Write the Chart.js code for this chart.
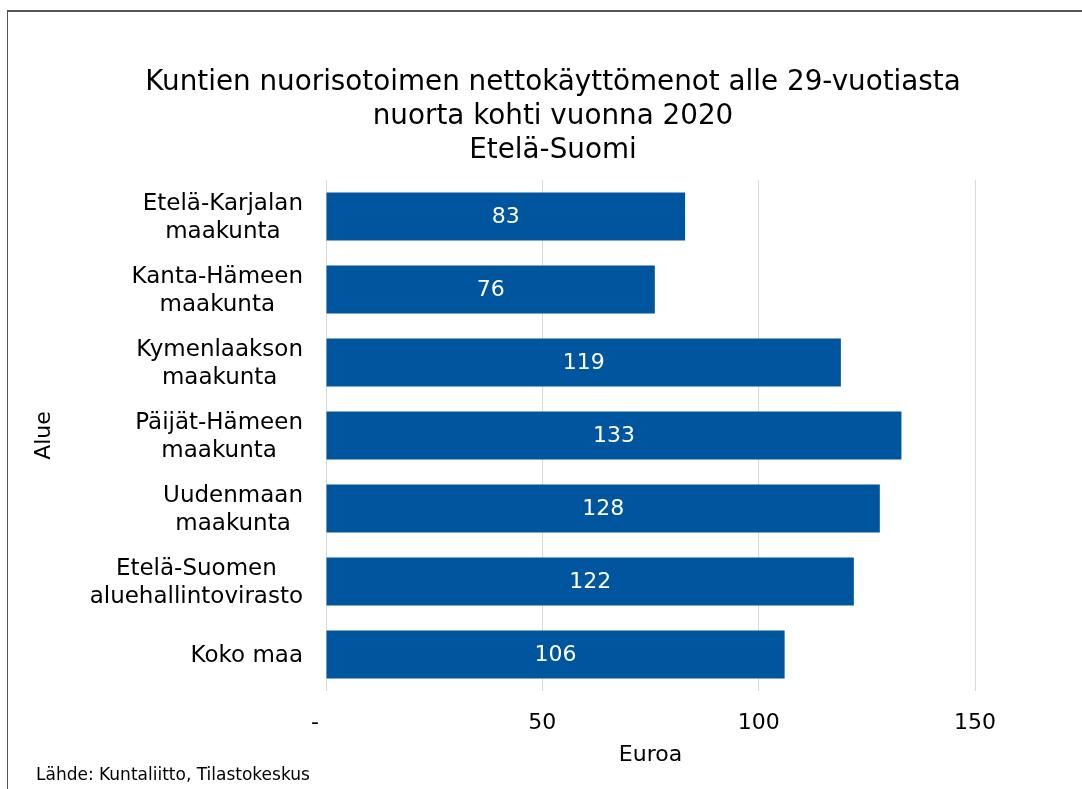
<!DOCTYPE html>
<html>
<head>
<meta charset="utf-8">
<script src="https://cdn.jsdelivr.net/npm/chart.js@4/dist/chart.umd.min.js"></script>
<style>
  html, body { margin: 0; padding: 0; background: #fff; }
  #wrap { position: relative; width: 1082px; height: 789px; overflow: hidden; }
  #frame { position: absolute; left: 7px; top: 10px; right: -10px; bottom: -10px;
           border-top: 2px solid #555; border-left: 1px solid #555; }
  canvas { position: absolute; left: 0; top: 0; }
</style>
</head>
<body>
<div id="wrap">
  <div id="frame"></div>
  <canvas id="c" width="1082" height="789"></canvas>
</div>
<script>
const titleLines = ["Kuntien nuorisotoimen nettokäyttömenot alle 29-vuotiasta", "nuorta kohti vuonna 2020", "Etelä-Suomi"];
const categories = [
  ["Etelä-Karjalan", "maakunta"],
  ["Kanta-Hämeen", "maakunta"],
  ["Kymenlaakson", "maakunta"],
  ["Päijät-Hämeen", "maakunta"],
  ["Uudenmaan", "maakunta"],
  ["Etelä-Suomen", "aluehallintovirasto"],
  ["Koko maa"]
];
const values = [83, 76, 119, 133, 128, 122, 106];
const xTickValues = [0, 50, 100, 150];
const xTickLabels = ["-", "50", "100", "150"];
const xAxisTitle = "Euroa";
const yAxisTitle = "Alue";
const sourceNote = "Lähde: Kuntaliitto, Tilastokeskus";

const FONT = "'DejaVu Sans', Verdana, sans-serif";
const BAR = "#00559f";

const customDraw = {
  id: 'customDraw',
  afterDraw(chart) {
    const ctx = chart.ctx;
    ctx.save();
    // Title
    ctx.fillStyle = '#000';
    ctx.font = "27.8px " + FONT;
    ctx.textAlign = 'center';
    ctx.textBaseline = 'alphabetic';
    titleLines.forEach((t, i) => ctx.fillText(t, 553, 90 + i * 34));
    // Category labels: block right-aligned, lines centered inside block
    const y = chart.scales.y;
    ctx.font = "23px " + FONT;
    categories.forEach((lines, i) => {
      const cy = y.getPixelForValue(i);
      const w = Math.max(...lines.map(l => ctx.measureText(l).width));
      const cx = 303 - w / 2;
      lines.forEach((l, j) => {
        ctx.fillText(l, cx, cy + 7.5 + (j - (lines.length - 1) / 2) * 27.6);
      });
    });
    // Value labels
    const meta = chart.getDatasetMeta(0);
    ctx.fillStyle = '#fff';
    ctx.font = "22px " + FONT;
    ctx.textBaseline = 'middle';
    meta.data.forEach((el, i) => {
      ctx.fillText(String(values[i]), (el.x + el.base) / 2, el.y + 1);
    });
    // Source note
    ctx.fillStyle = '#000';
    ctx.textAlign = 'left';
    ctx.textBaseline = 'alphabetic';
    ctx.font = "17px " + FONT;
    ctx.fillText(sourceNote, 36, 780);
    ctx.restore();
  }
};

new Chart(document.getElementById('c'), {
  type: 'bar',
  data: {
    labels: categories,
    datasets: [{ data: values, backgroundColor: BAR, borderWidth: 0,
                 barPercentage: 0.66, categoryPercentage: 1 }]
  },
  options: {
    indexAxis: 'y',
    responsive: false,
    animation: false,
    devicePixelRatio: 1,
    layout: { padding: { left: 30, right: 107, top: 180, bottom: 0 } },
    plugins: { legend: { display: false }, title: { display: false }, tooltip: { enabled: false } },
    scales: {
      x: {
        min: 0, max: 150,
        afterBuildTicks(scale) { scale.ticks = xTickValues.map(v => ({ value: v })); },
        afterFit(scale) { scale.height = 98; },
        ticks: {
          padding: 19,
          color: '#000',
          font: { family: FONT, size: 22 },
          callback(v) {
            const i = xTickValues.indexOf(v);
            if (i < 0) return '';
            return v === 0 ? xTickLabels[i] + '\u2002\u2002' : xTickLabels[i];
          }
        },
        grid: { color: '#d9d9d9', lineWidth: 1, drawTicks: false },
        border: { display: false },
        title: { display: true, text: xAxisTitle, color: '#000',
                 font: { family: FONT, size: 22 }, padding: { top: 0, bottom: 21 } }
      },
      y: {
        afterFit(scale) { scale.width = 296; },
        ticks: { display: false },
        grid: { display: false },
        border: { display: false },
        title: { display: true, text: yAxisTitle, color: '#000',
                 font: { family: FONT, size: 22 }, padding: { top: 1, bottom: 0 } }
      }
    }
  },
  plugins: [customDraw]
});
</script>
</body>
</html>
